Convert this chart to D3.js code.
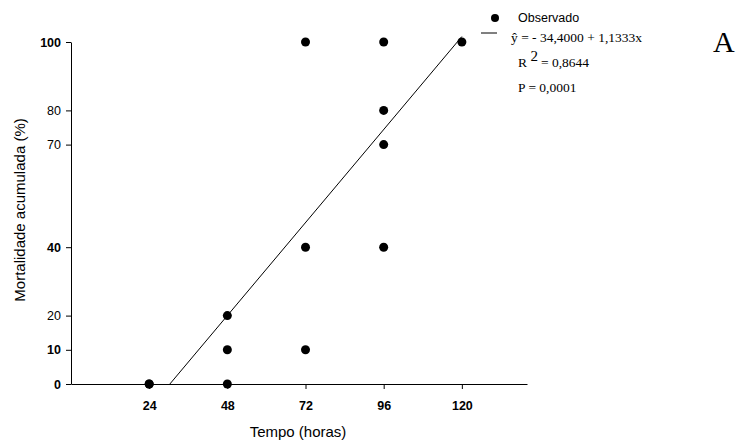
<!DOCTYPE html>
<html>
<head>
<meta charset="utf-8">
<script src="https://cdn.jsdelivr.net/npm/d3@7"></script>
<style>
  body { margin: 0; background: #fff; }
  svg { display: block; }
  text { font-family: "Liberation Sans", Arial, sans-serif; }
  .serif { font-family: "Liberation Serif", "Times New Roman", serif; }
</style>
</head>
<body>
<svg id="chart" width="739" height="443"></svg>
<script>
// observed points: hours and cumulative mortality (%)
const obsHours = [24, 24, 48, 48, 48, 72, 72, 72, 96, 96, 96, 96, 120];
const obsMort  = [0, 0, 0, 10, 20, 10, 40, 100, 40, 70, 80, 100, 100];

const xTicks = [24, 48, 72, 96, 120];
const yTicks = [0, 10, 20, 40, 70, 80, 100];
const yBold = [0, 10, 40, 100];

// fitted regression y = a + b x
const intercept = -34.4;
const slope = 1.1333;
const fitRange = [-intercept / slope, 120];

const svg = d3.select('#chart');

const xScale = d3.scaleLinear().domain([0, 140]).range([71, 527]);
const yScale = d3.scaleLinear().domain([0, 100]).range([384, 42]);

// x axis
const xAxis = svg.append('g')
  .attr('transform', `translate(0, ${yScale(0)})`)
  .call(d3.axisBottom(xScale).tickValues(xTicks).tickSize(5).tickPadding(12).tickSizeOuter(0));
xAxis.selectAll('text')
  .attr('font-size', 12.5).attr('font-weight', 'bold')
  .attr('font-family', '"Liberation Sans", Arial, sans-serif');

// y axis
const yAxis = svg.append('g')
  .attr('transform', `translate(${xScale(0)}, 0)`)
  .call(d3.axisLeft(yScale).tickValues(yTicks).tickSize(5).tickPadding(5).tickSizeOuter(0));
yAxis.selectAll('text')
  .attr('font-size', 12.5)
  .attr('font-weight', d => yBold.includes(d) ? 'bold' : 'normal')
  .attr('font-family', '"Liberation Sans", Arial, sans-serif');
svg.selectAll('.domain, .tick line').attr('stroke', '#000');

// regression line
const line = d3.line()
  .x(d => xScale(d))
  .y(d => yScale(intercept + slope * d));
svg.append('path')
  .datum(fitRange)
  .attr('d', line)
  .attr('fill', 'none')
  .attr('stroke', '#000')
  .attr('stroke-width', 1);

// points
svg.selectAll('circle.obs')
  .data(obsHours)
  .enter()
  .append('circle')
  .attr('class', 'obs')
  .attr('cx', d => xScale(d))
  .attr('cy', (d, i) => yScale(obsMort[i]))
  .attr('r', 4.5)
  .attr('fill', '#000');

// axis titles
svg.append('text')
  .attr('x', 298).attr('y', 437)
  .attr('text-anchor', 'middle')
  .attr('font-size', 15)
  .text('Tempo (horas)');
svg.append('text')
  .attr('transform', 'translate(25, 210) rotate(-90)')
  .attr('text-anchor', 'middle')
  .attr('font-size', 15)
  .text('Mortalidade acumulada (%)');

// legend
svg.append('circle').attr('cx', 495).attr('cy', 18).attr('r', 4).attr('fill', '#000');
svg.append('text').attr('x', 518).attr('y', 22).attr('font-size', 12.5).text('Observado');
svg.append('line').attr('x1', 481).attr('x2', 497).attr('y1', 33).attr('y2', 33).attr('stroke', '#000');
svg.append('text').attr('class', 'serif').attr('x', 511).attr('y', 42).attr('font-size', 13.5)
  .text('\u0177 = - 34,4000 + 1,1333x');
const r2 = svg.append('text').attr('class', 'serif').attr('x', 518).attr('y', 67).attr('font-size', 13.5);
r2.append('tspan').text('R ');
r2.append('tspan').attr('dy', -6).attr('font-size', 15).text('2');
r2.append('tspan').attr('dy', 6).attr('dx', 3).text('= 0,8644');
svg.append('text').attr('class', 'serif').attr('x', 518).attr('y', 92).attr('font-size', 13.5)
  .text('P = 0,0001');

// panel letter
svg.append('text').attr('class', 'serif').attr('x', 713).attr('y', 52).attr('font-size', 30).text('A');
</script>
</body>
</html>
